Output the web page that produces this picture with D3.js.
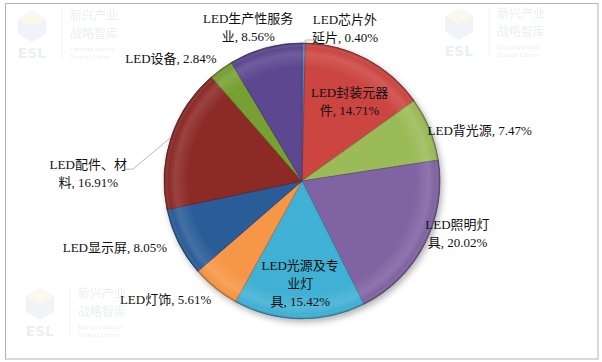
<!DOCTYPE html>
<html>
<head>
<meta charset="utf-8">
<script src="https://cdn.jsdelivr.net/npm/d3@7"></script>
<style>
  body { margin: 0; background: #fff; }
</style>
</head>
<body>
<script>
// chart size
const width = 602;
const height = 362;

// data, clockwise from 12 o'clock
const categories = ["LED芯片外延片", "LED封装元器件", "LED背光源", "LED照明灯具", "LED光源及专业灯具",
  "LED灯饰", "LED显示屏", "LED配件、材料", "LED设备", "LED生产性服务业"];
const shares = [0.40, 14.71, 7.47, 20.02, 15.42, 5.61, 8.05, 16.91, 2.84, 8.56];

// excel-ish palette
const colors = ["#4f81bd", "#cc4440", "#9bbb59", "#8064a2", "#40b0d4",
  "#f79646", "#2c5d98", "#8c2b28", "#77a032", "#5c4790"];

// where each label wraps (character index), and where it sits (angle in deg, radius factor)
const labelBreaks = [[6], [7], [], [6], [7, 9], [], [], [7], [], [8]];
const labelAngle = [15.7, 31, 74, 108.8, 181, 229, 250.3, 272.1, 313.1, 340.7];
const labelRadius = [1.15, 0.67, 1.34, 1.19, 0.74, 1.31, 1.44, 1.55, 1.30, 1.18];
const leaderSlices = [0, 7];

const cx = 302, cy = 181, R = 138;

var svg = d3.select("body").append("svg")
  .attr("width", width)
  .attr("height", height)
  .style("font-family", "'Liberation Serif', 'Noto Sans CJK SC', serif");

// outer frame
svg.append("rect")
  .attr("x", 5.5).attr("y", 3.5)
  .attr("width", 592.5).attr("height", 355.5)
  .attr("fill", "#fff")
  .attr("stroke", "#b4b4b4");

// faint watermarks
function watermark(x, y) {
  var g = svg.append("g").attr("transform", "translate(" + x + "," + y + ")").attr("opacity", 0.15);
  g.append("path").attr("d", "M0,10 L14,2 L28,10 L28,26 L14,34 L0,26Z").attr("fill", "#9dbbd6");
  g.append("path").attr("d", "M14,2 L28,10 L14,18 L0,10Z").attr("fill", "#e8d98a");
  g.append("text").attr("x", 14).attr("y", 50).attr("text-anchor", "middle")
    .attr("font-family", "'DejaVu Sans'").attr("font-weight", "bold").attr("font-size", 14)
    .attr("fill", "#7c9bb8").text("ESL");
  g.append("line").attr("x1", 44).attr("x2", 44).attr("y1", 0).attr("y2", 52).attr("stroke", "#aab");
  g.append("text").attr("x", 52).attr("y", 12).attr("font-size", 12)
    .attr("font-family", "'Noto Sans CJK SC'").attr("fill", "#6a9a80").text("新兴产业");
  g.append("text").attr("x", 52).attr("y", 30).attr("font-size", 12)
    .attr("font-family", "'Noto Sans CJK SC'").attr("fill", "#6a9a80").text("战略智库");
  g.append("text").attr("x", 52).attr("y", 43).attr("font-size", 6).attr("fill", "#88a").text("Emerging Industry");
  g.append("text").attr("x", 52).attr("y", 51).attr("font-size", 6).attr("fill", "#88a").text("Strategic Library");
}
watermark(18, 8);
watermark(445, 6);
watermark(26, 286);

// defs: shadow + bevel shading
var defs = svg.append("defs");
var shadow = defs.append("filter").attr("id", "shadow")
  .attr("x", "-20%").attr("y", "-20%").attr("width", "140%").attr("height", "140%");
shadow.append("feDropShadow").attr("dx", 2).attr("dy", 3)
  .attr("stdDeviation", 3).attr("flood-color", "#000").attr("flood-opacity", 0.3);

var bevel = defs.append("radialGradient").attr("id", "bevel")
  .attr("gradientUnits", "userSpaceOnUse")
  .attr("cx", 0).attr("cy", 0).attr("r", R);
[[0, "#fff", 0], [0.82, "#fff", 0.0], [0.92, "#fff", 0.12], [0.97, "#fff", 0.0], [1, "#000", 0.35]]
  .forEach(s => bevel.append("stop").attr("offset", s[0]).attr("stop-color", s[1]).attr("stop-opacity", s[2]));

var pie = d3.pie().sort(null).value(d => d)(shares);
var arc = d3.arc().innerRadius(0).outerRadius(R);

var g = svg.append("g").attr("transform", "translate(" + cx + "," + cy + ")");

g.append("g").attr("filter", "url(#shadow)")
  .selectAll("path")
  .data(pie)
  .enter().append("path")
  .attr("d", arc)
  .attr("fill", (d, i) => colors[i])
  .attr("stroke", (d, i) => d3.color(colors[i]).darker(0.8))
  .attr("stroke-width", 0.8);

g.append("g").selectAll("path")
  .data(pie)
  .enter().append("path")
  .attr("d", arc)
  .attr("fill", "url(#bevel)");

// labels
function polar(angleDeg, r) {
  var a = angleDeg * Math.PI / 180;
  return [r * Math.sin(a), -r * Math.cos(a)];
}

var lineH = 18;
var labelBoxes = [];
categories.forEach(function (c, i) {
  var full = c + ", " + shares[i].toFixed(2) + "%";
  var cuts = [0].concat(labelBreaks[i]).concat([full.length]);
  var lines = [];
  for (var k = 0; k < cuts.length - 1; k++) lines.push(full.slice(cuts[k], cuts[k + 1]));
  var p = polar(labelAngle[i], R * labelRadius[i]);
  var t = g.append("text")
    .attr("text-anchor", "middle")
    .attr("font-size", 13)
    .attr("fill", "#111");
  lines.forEach(function (l, k) {
    t.append("tspan")
      .attr("x", p[0])
      .attr("y", p[1] + (k - (lines.length - 1) / 2) * lineH + 4.5)
      .text(l);
  });
  labelBoxes[i] = t.node().getBBox();
});

// leader lines for the labels that sit away from their slice
leaderSlices.forEach(function (i) {
  var d = pie[i];
  var mid = (d.startAngle + d.endAngle) / 2 * 180 / Math.PI;
  var p0 = polar(mid, R);
  var b = labelBoxes[i];
  var pts;
  if (p0[0] >= 0) {
    var yy = p0[1] - 3;
    pts = [p0, [p0[0] + 2, yy], [b.x + 6, yy]];
  } else {
    var yl = b.y + b.height / 2 - 4;
    pts = [p0, [b.x + b.width + 6, yl], [b.x + b.width - 2, yl]];
  }
  g.append("path")
    .attr("d", d3.line()(pts))
    .attr("fill", "none")
    .attr("stroke", "#a6a6a6")
    .attr("stroke-width", 0.8);
});
</script>
</body>
</html>
